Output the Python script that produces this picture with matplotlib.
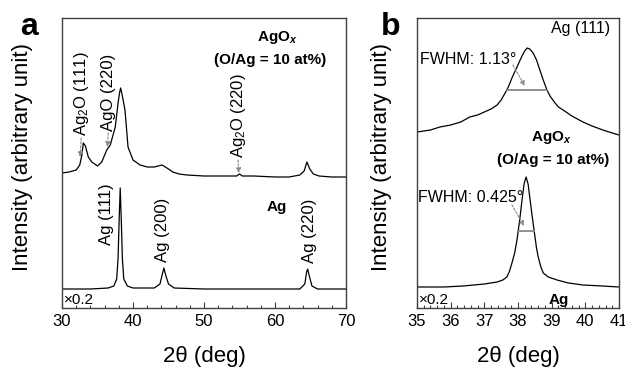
import matplotlib
matplotlib.use("Agg")
import matplotlib.pyplot as plt
from matplotlib.ticker import MultipleLocator

plt.rcParams["font.family"] = ["Liberation Sans", "DejaVu Sans"]
plt.rcParams["mathtext.fontset"] = "custom"
plt.rcParams["mathtext.rm"] = "Liberation Sans"
plt.rcParams["mathtext.it"] = "Liberation Sans:italic:bold"

# panel a: wide scan (2theta in deg, intensity in arb. units)
agox_a_x = [30, 31, 32, 32.5, 32.8, 33.0, 33.3, 33.7, 34.2, 35.0, 35.6, 36.3, 36.8,
            37.5, 37.9, 38.1, 38.26, 38.5, 38.87, 39.3, 40.0, 41.0, 42.0, 43.0, 44.1,
            45.0, 45.6, 46.5, 47.6, 50, 53, 54.6, 55.0, 55.4, 57, 60, 62, 63.5, 64.1,
            64.5, 64.9, 65.4, 66.2, 68, 70]
agox_a_y = [135, 136, 138, 143, 153, 165, 162, 151, 146, 142, 146, 158, 163,
            181, 205, 215, 220, 212, 198, 161, 148, 143, 141, 141, 143,
            139, 136, 134, 133, 132, 132, 132, 134, 132, 132, 131, 131, 133, 137,
            146, 139, 134, 132, 131, 131]

ag_a_x = [30, 34, 36.5, 37.3, 37.7, 37.9, 38.05, 38.2, 38.35, 38.5, 38.7, 39.2, 40,
          43, 43.8, 44.1, 44.35, 44.6, 45.0, 45.8, 50, 60, 63.5, 64.2, 64.45, 64.6,
          64.8, 65.2, 66, 70]
ag_a_y = [19, 19, 20, 22, 29, 50, 88, 120, 88, 50, 29, 22, 20,
          20, 24, 33, 40, 33, 24, 20, 19, 19, 19, 24, 36, 39,
          33, 22, 19, 19]

# panel b: Ag (111) region
agox_b_x = [35.0, 35.4, 35.68, 36.0, 36.3, 36.57, 36.8, 37.0, 37.2, 37.38, 37.5, 37.6,
            37.67, 37.75, 37.82, 37.9, 37.97, 38.05, 38.12, 38.2, 38.27, 38.35, 38.45,
            38.55, 38.65, 38.75, 38.86, 38.95, 39.1, 39.2, 39.34, 39.6, 39.93, 40.2,
            40.52, 40.8, 41.0]
agox_b_y = [176, 178, 181, 183, 186, 191, 193, 196, 199, 203, 208, 214,
            218, 224, 230, 236, 241, 247, 252, 257, 260, 259, 255,
            248, 238, 228, 218, 212, 205, 201, 198, 192, 186, 182,
            178, 175, 173]

ag_b_x = [35.0, 35.8, 36.37, 37.0, 37.38, 37.55, 37.67, 37.75, 37.82, 37.9, 37.97,
          38.05, 38.12, 38.18, 38.24, 38.3, 38.36, 38.42, 38.48, 38.55, 38.6, 38.68,
          38.75, 38.9, 39.16, 39.5, 39.93, 40.5, 41.0]
ag_b_y = [21, 21, 22, 24, 26, 28, 31, 37, 45, 55, 68,
          88, 108, 124, 131, 124, 108, 92, 77, 60, 51, 41,
          35, 31, 28, 25, 23, 22, 21]

# FWHM bars (left, right, level)
fwhm_agox = [37.67, 38.86, 218]
fwhm_ag = [37.99, 38.47, 77]

fig = plt.figure(figsize=(6.25, 3.67), dpi=100)
ax1 = fig.add_axes([62 / 625, 1 - 308 / 367, 284 / 625, 290 / 367])
ax2 = fig.add_axes([417 / 625, 1 - 308 / 367, 202 / 625, 290 / 367])

arrow = dict(arrowstyle="-|>", color="#888888", lw=0.8, ls=(0, (2, 1.5)),
             mutation_scale=7, shrinkA=0, shrinkB=0)

for ax in (ax1, ax2):
    ax.set_ylim(0, 290)
    ax.set_yticks([])
    for s in ax.spines.values():
        s.set_color("#404040")
        s.set_linewidth(1)
    ax.tick_params(axis="x", direction="in", top=False, labelsize=12,
                   length=4, width=0.8, color="#404040", pad=4)
    ax.tick_params(axis="x", which="minor", direction="in", top=False,
                   length=2.5, width=0.8, color="#404040")
    ax.set_xlabel("2\u03b8 (deg)", fontsize=16)
    ax.set_ylabel("Intensity (arbitrary unit)", fontsize=16)
    ax.xaxis.set_label_coords(0.5, -0.13)

# panel a
ax1.plot(agox_a_x, agox_a_y, color="black", lw=0.9)
ax1.plot(ag_a_x, ag_a_y, color="black", lw=0.9)
ax1.set_xlim(30, 70)
ax1.xaxis.set_major_locator(MultipleLocator(10))
ax1.xaxis.set_minor_locator(MultipleLocator(2))
ax1.yaxis.set_label_coords(-0.102, 0.52)

bold = dict(fontsize=11, fontweight="bold", ha="center", va="center")
ax1.text(60.3, 270, r"AgO$_x$", **bold)
ax1.text(59.3, 248, "(O/Ag = 10 at%)", **bold)
ax1.text(60.3, 101, "Ag", **bold)
ax1.text(30.3, 8, "\u00d70.2", fontsize=11, ha="left", va="center")

rot = dict(fontsize=12, rotation=90, ha="center", va="bottom")
ax1.text(32.7, 172, r"Ag$_2$O (111)", **rot)
ax1.text(36.5, 177, "AgO (220)", **rot)
ax1.text(54.8, 150, r"Ag$_2$O (220)", **rot)
ax1.text(36.3, 63, "Ag (111)", **rot)
ax1.text(44.2, 46, "Ag (200)", **rot)
ax1.text(64.8, 45, "Ag (220)", **rot)
ax1.annotate("", xy=(32.55, 151), xytext=(32.7, 170), arrowprops=arrow)
ax1.annotate("", xy=(36.4, 161), xytext=(36.5, 175), arrowprops=arrow)
ax1.annotate("", xy=(54.9, 135), xytext=(54.8, 148), arrowprops=arrow)

# panel b
ax2.plot(agox_b_x, agox_b_y, color="black", lw=0.9)
ax2.plot(ag_b_x, ag_b_y, color="black", lw=0.9)
ax2.plot(fwhm_agox[:2], [fwhm_agox[2]] * 2, color="#888888", lw=1.3)
ax2.plot(fwhm_ag[:2], [fwhm_ag[2]] * 2, color="#888888", lw=1.3)
ax2.set_xlim(35, 41)
ax2.xaxis.set_major_locator(MultipleLocator(1))
ax2.xaxis.set_minor_locator(MultipleLocator(0.2))
ax2.yaxis.set_label_coords(-0.124, 0.52)

ax2.text(40.75, 280, "Ag (111)", fontsize=11.5, ha="right", va="center")
ax2.text(35.08, 248, "FWHM: 1.13\u00b0", fontsize=11.5, ha="left", va="center")
ax2.text(38.98, 171, r"AgO$_x$", **bold)
ax2.text(39.04, 148, "(O/Ag = 10 at%)", **bold)
ax2.text(35.03, 111, "FWHM: 0.425\u00b0", fontsize=11.5, ha="left", va="center")
ax2.text(35.05, 8, "\u00d70.2", fontsize=11, ha="left", va="center")
ax2.text(39.22, 8, "Ag", **bold)
ax2.annotate("", xy=(38.2, 222), xytext=(37.85, 243), arrowprops=arrow)
ax2.annotate("", xy=(38.18, 82), xytext=(37.82, 103), arrowprops=arrow)

fig.text(29 / 625, 1 - 27 / 367, "a", fontsize=23, fontweight="bold", ha="center", va="center")
fig.text(391 / 625, 1 - 27 / 367, "b", fontsize=23, fontweight="bold", ha="center", va="center")

fig.savefig("out.png", dpi=100)
